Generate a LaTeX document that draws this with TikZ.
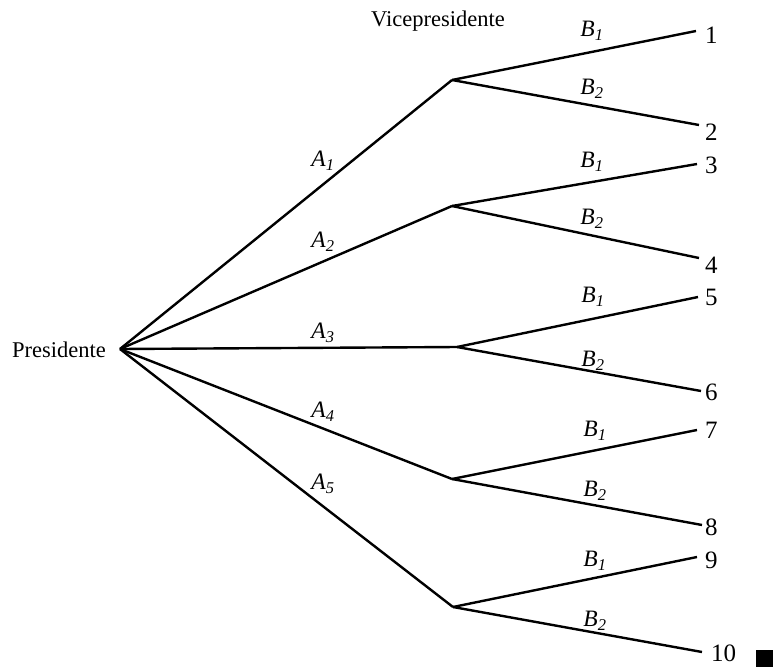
\documentclass[tikz,border=0pt]{standalone}
\usepackage{fontspec}
\setmainfont{Liberation Serif}
\begin{document}
\begin{tikzpicture}[x=1pt,y=-1pt,
  edge/.style={line width=2.4pt, line join=round},
  txt/.style={font=\fontsize{22.5}{25}\selectfont, inner sep=0pt},
  num/.style={font=\fontsize{25}{27}\selectfont, inner sep=0pt, anchor=west},
  lab/.style={font=\fontsize{23.5}{26}\selectfont\itshape, inner sep=0pt}]
\useasboundingbox (0,0) rectangle (774,667);
% root and level-1 points
\coordinate (r) at (120,349);
\coordinate (v1) at (452,80);
\coordinate (v2) at (452,206);
\coordinate (v3) at (457,347);
\coordinate (v4) at (452,479);
\coordinate (v5) at (453,607);
% leaf end points
\coordinate (l1) at (696,31);
\coordinate (l2) at (699,125);
\coordinate (l3) at (697,164);
\coordinate (l4) at (699,258);
\coordinate (l5) at (698,297);
\coordinate (l6) at (701,391);
\coordinate (l7) at (697,430);
\coordinate (l8) at (702,525);
\coordinate (l9) at (697,557);
\coordinate (l10) at (702,652);
% texts
\node[txt] (pres) at (59,350) {Presidente};
\node[txt] (vice) at (438,21) {Vicepresidente};
\node[num] (n1) at (705,35) {1};
\node[num] (n2) at (705,132) {2};
\node[num] (n3) at (705,165) {3};
\node[num] (n4) at (705,265) {4};
\node[num] (n5) at (705,297) {5};
\node[num] (n6) at (705,392) {6};
\node[num] (n7) at (705,430) {7};
\node[num] (n8) at (705,527) {8};
\node[num] (n9) at (705,560) {9};
\node[num] (n10) at (711,653) {10};
\node[fill=black, minimum size=17pt, inner sep=0pt] (sq) at (764.5,658.5) {};
% edges level 1
\draw[edge] (r) -- (v1);
\draw[edge] (r) -- (v2);
\draw[edge] (r) -- (v3);
\draw[edge] (r) -- (v4);
\draw[edge] (r) -- (v5);
% edges level 2
\draw[edge] (v1) -- (l1);
\draw[edge] (v1) -- (l2);
\draw[edge] (v2) -- (l3);
\draw[edge] (v2) -- (l4);
\draw[edge] (v3) -- (l5);
\draw[edge] (v3) -- (l6);
\draw[edge] (v4) -- (l7);
\draw[edge] (v4) -- (l8);
\draw[edge] (v5) -- (l9);
\draw[edge] (v5) -- (l10);
% A labels
\node[lab] (a1) at (323,161) {A\textsubscript{1}};
\node[lab] (a2) at (323,242) {A\textsubscript{2}};
\node[lab] (a3) at (323,333) {A\textsubscript{3}};
\node[lab] (a4) at (323,412) {A\textsubscript{4}};
\node[lab] (a5) at (323,484) {A\textsubscript{5}};
% B labels
\node[lab] (b1) at (592,31) {B\textsubscript{1}};
\node[lab] (b2) at (592,89) {B\textsubscript{2}};
\node[lab] (b3) at (592,162) {B\textsubscript{1}};
\node[lab] (b4) at (592,219) {B\textsubscript{2}};
\node[lab] (b5) at (593,297) {B\textsubscript{1}};
\node[lab] (b6) at (593,361) {B\textsubscript{2}};
\node[lab] (b7) at (595,431) {B\textsubscript{1}};
\node[lab] (b8) at (595,491) {B\textsubscript{2}};
\node[lab] (b9) at (595,561) {B\textsubscript{1}};
\node[lab] (b10) at (595,621) {B\textsubscript{2}};
\end{tikzpicture}
\end{document}
